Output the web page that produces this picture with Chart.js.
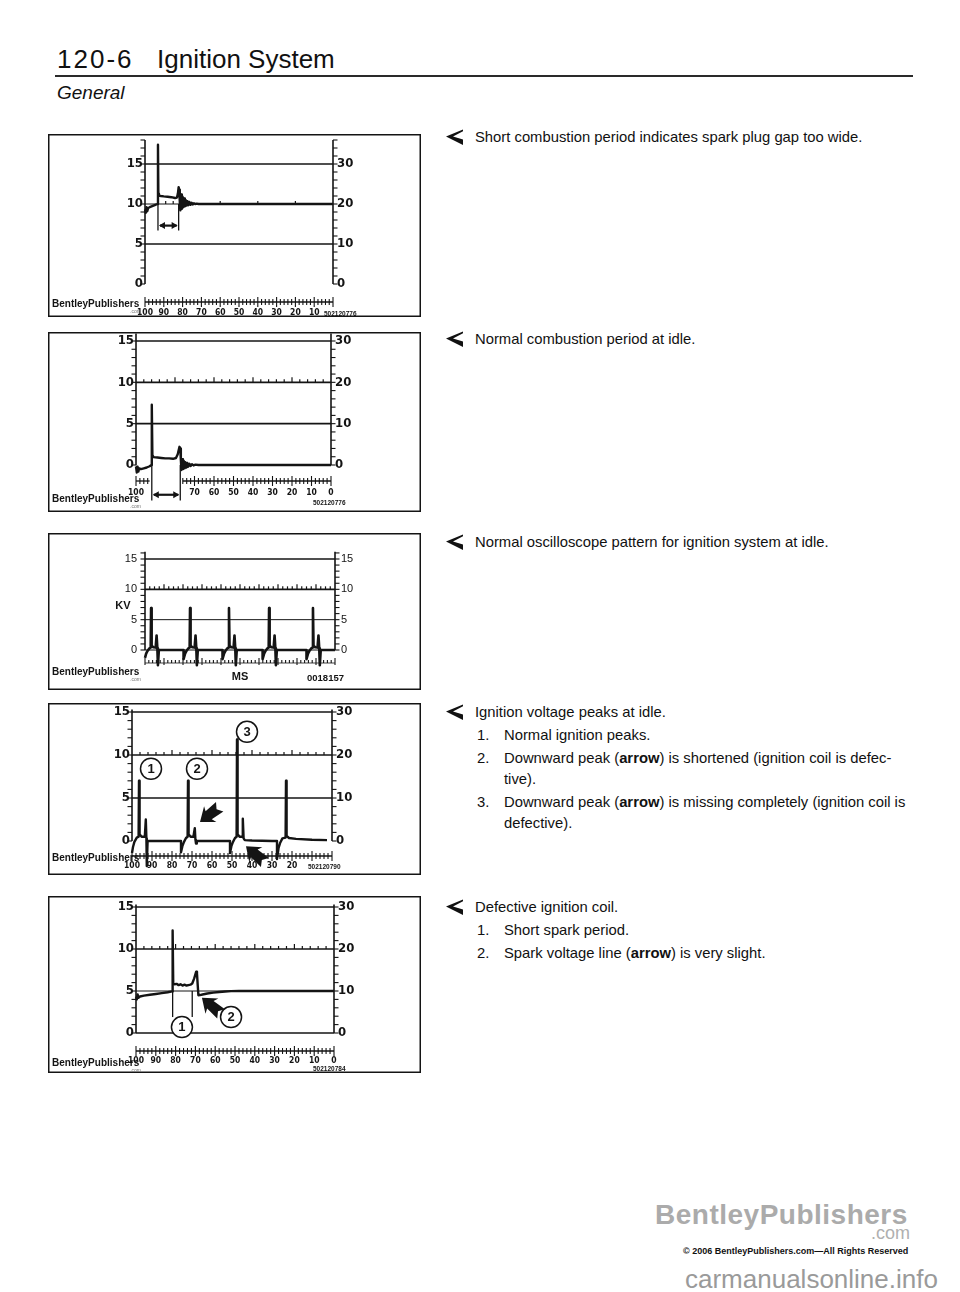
<!DOCTYPE html>
<html lang="en">
<head>
<meta charset="utf-8">
<title>120-6 Ignition System</title>
<script src="https://cdn.jsdelivr.net/npm/chart.js@4.4.1/dist/chart.umd.min.js"></script>
<style>
  html, body { margin: 0; padding: 0; background: #fff; }
  #page { position: relative; width: 960px; height: 1292px; overflow: hidden; color: #111;
          font-family: "Liberation Sans", Arial, Helvetica, sans-serif; }
  #page canvas { position: absolute; }
  .abs { position: absolute; white-space: nowrap; }
  .head { font-size: 26px; line-height: 30px; top: 44px; }
  .rule { position: absolute; left: 55px; top: 75px; width: 858px; height: 2px; background: #2a2a2a; }
  .sub { font-style: italic; font-size: 19px; line-height: 22px; left: 57px; top: 82px; }
  .note { position: absolute; left: 475px; font-size: 14.8px; line-height: 21px; white-space: nowrap; }
  .note svg { position: absolute; left: -29px; top: 2px; }
  .item { position: relative; padding-left: 29px; margin-top: 2px; }
  .item .n { position: absolute; left: 2px; }
</style>
</head>
<body>
<div id="page">
  <div class="abs head" style="left:57px;letter-spacing:2px">120-6</div>
  <div class="abs head" style="left:157px">Ignition System</div>
  <div class="rule"></div>
  <div class="abs sub">General</div>

  <canvas id="scope1"></canvas>
  <canvas id="scope2"></canvas>
  <canvas id="scope3"></canvas>
  <canvas id="scope4"></canvas>
  <canvas id="scope5"></canvas>

  <div class="note" style="top:127px">
    <svg width="17" height="16" viewBox="0 0 17 16"><path d="M0 7.5 L17 0.5 L17 2.2 L7 7.6 L17 10.5 L17 16 Z" fill="#111"/></svg>
    Short combustion period indicates spark plug gap too wide.
  </div>
  <div class="note" style="top:329px">
    <svg width="17" height="16" viewBox="0 0 17 16"><path d="M0 7.5 L17 0.5 L17 2.2 L7 7.6 L17 10.5 L17 16 Z" fill="#111"/></svg>
    Normal combustion period at idle.
  </div>
  <div class="note" style="top:532px">
    <svg width="17" height="16" viewBox="0 0 17 16"><path d="M0 7.5 L17 0.5 L17 2.2 L7 7.6 L17 10.5 L17 16 Z" fill="#111"/></svg>
    Normal oscilloscope pattern for ignition system at idle.
  </div>
  <div class="note" style="top:702px">
    <svg width="17" height="16" viewBox="0 0 17 16"><path d="M0 7.5 L17 0.5 L17 2.2 L7 7.6 L17 10.5 L17 16 Z" fill="#111"/></svg>
    <div>Ignition voltage peaks at idle.</div>
    <div class="item"><span class="n">1.</span>Normal ignition peaks.</div>
    <div class="item"><span class="n">2.</span>Downward peak (<b>arrow</b>) is shortened (ignition coil is defec-<br>tive).</div>
    <div class="item"><span class="n">3.</span>Downward peak (<b>arrow</b>) is missing completely (ignition coil is<br>defective).</div>
  </div>
  <div class="note" style="top:897px">
    <svg width="17" height="16" viewBox="0 0 17 16"><path d="M0 7.5 L17 0.5 L17 2.2 L7 7.6 L17 10.5 L17 16 Z" fill="#111"/></svg>
    <div>Defective ignition coil.</div>
    <div class="item"><span class="n">1.</span>Short spark period.</div>
    <div class="item"><span class="n">2.</span>Spark voltage line (<b>arrow</b>) is very slight.</div>
  </div>

  <div class="abs" style="left:655px;top:1198px;font-weight:bold;font-size:28px;line-height:34px;letter-spacing:0.5px;color:#ababab">BentleyPublishers</div>
  <div class="abs" style="right:50px;top:1222px;font-size:18px;line-height:22px;color:#b0b0b0">.com</div>
  <div class="abs" style="left:683px;top:1245px;font-weight:bold;font-size:9px;line-height:12px">© 2006 BentleyPublishers.com—All Rights Reserved</div>
  <div class="abs" style="left:685px;top:1264px;font-size:26px;line-height:30px;color:#9a9a9a">carmanualsonline.info</div>
</div>

<script>
// scope 1: spark plug gap too wide (ms runs 100 -> 0, kV)
const wideGapMs = [100, 99.6, 99.2, 98.8, 98.3, 97.5, 96.5, 95.5, 94.5, 93.4, 93.1, 92.9, 92.6, 91.5, 90,
                   88, 86, 84, 83, 82.5, 82.1, 81.8, 81.5, 81.2, 80.8, 80.4, 80.0, 79.6, 79.2, 78.8,
                   78.4, 77.9, 77.4, 76.9, 76.4, 75.8, 75.2, 74.6, 74.0, 73.3, 72.5, 71.5, 0];
const wideGapKv = [9.3, 8.9, 9.6, 9.1, 9.5, 9.6, 9.7, 9.8, 9.9, 10.0, 17.4, 11.3, 11.05, 11.0, 10.95,
                   10.9, 10.85, 10.75, 10.8, 11.3, 12.1, 11.8, 10.3, 9.2, 11.2, 9.4, 10.9, 9.6, 10.7, 9.7,
                   10.5, 9.8, 10.35, 9.85, 10.25, 9.9, 10.15, 9.95, 10.1, 10.0, 10.05, 10.0, 10.0];
const wideGapSpan = [93.1, 82.1];
const wideGapMarks = [89, 85, 60, 40, 20];

// scope 2: normal combustion period at idle
const idleMs = [100, 99.6, 99.2, 98.8, 98.4, 97.5, 96, 94.5, 93, 92.1, 91.9, 91.6, 91, 89, 87,
                85, 83, 81, 79.5, 78.6, 77.7, 77.3, 77.0, 76.7, 76.3, 75.9, 75.5, 75.1, 74.7, 74.2,
                73.7, 73.2, 72.6, 72.0, 71.3, 70.5, 69.5, 68, 0];
const idleKv = [-0.2, -0.9, -0.2, -0.8, -0.4, -0.5, -0.4, -0.3, -0.15, 0, 7.3, 1.2, 0.95, 0.9, 0.85,
                0.8, 0.8, 0.75, 0.85, 1.3, 2.2, 2.0, 0.6, -0.6, 0.7, -0.5, 0.5, -0.4, 0.35, -0.3,
                0.25, -0.2, 0.15, -0.12, 0.1, -0.05, 0.05, 0, 0];
const idleSpan = [91.9, 77.3];

// scope 3: oscilloscope pattern, five cylinders (screen time units 0 -> 100)
const patternT = [0, 0.6, 1.4, 2.4, 3.0, 3.2, 3.5, 4.4, 5.6, 6.1, 6.5, 6.8, 7.3,
                  20.3, 20.3, 21.1, 21.9, 22.9, 23.5, 23.7, 24.0, 24.9, 26.1, 26.6, 27.0, 27.3, 27.8,
                  40.8, 40.8, 41.6, 42.4, 43.4, 44.0, 44.2, 44.5, 45.4, 46.6, 47.1, 47.5, 47.8, 48.3,
                  61.9, 61.9, 62.7, 63.5, 64.5, 65.1, 65.3, 65.6, 66.5, 67.7, 68.2, 68.6, 68.9, 69.4,
                  85.0, 85.0, 85.8, 86.6, 87.6, 88.2, 88.4, 88.7, 89.6, 90.8, 91.3, 91.7, 92.0, 92.5, 100];
const patternKv = [-1.3, -0.6, -0.1, 0.3, 0.4, 6.9, 0.7, 0.45, 0.4, 2.4, 0.3, -2.5, 0,
                   0, -1.5, -0.6, -0.1, 0.3, 0.4, 6.9, 0.7, 0.45, 0.4, 2.4, 0.3, -2.5, 0,
                   0, -1.5, -0.6, -0.1, 0.3, 0.4, 6.9, 0.7, 0.45, 0.4, 2.4, 0.3, -2.5, 0,
                   0, -1.5, -0.6, -0.1, 0.3, 0.4, 6.9, 0.7, 0.45, 0.4, 2.4, 0.3, -2.5, 0,
                   0, -1.5, -0.6, -0.1, 0.3, 0.4, 6.9, 0.7, 0.45, 0.4, 2.4, 0.3, -2.5, 0, 0];

// scope 4: ignition voltage peaks at idle
const peaksMs = [100, 99.5, 98.8, 97.6, 96.7, 96.5, 96.2, 95.2, 93.6, 93.1, 92.8, 92.6, 92.2,
                 75.5, 75.5, 74.8, 74.0, 73.0, 72.2, 72.0, 71.7, 70.7, 69.3, 68.6, 68.3, 68.0, 67.6,
                 51.0, 51.0, 50.3, 49.5, 48.5, 47.7, 47.5, 47.2, 46.2, 45.0, 44.6, 44.2, 43.6, 40.0, 30.0,
                 27.5, 27.5, 26.7, 25.9, 24.8, 23.2, 23.0, 22.7, 21.5, 18.0, 10.0, 2.5];
const peaksKv = [-1.4, -0.7, -0.1, 0.4, 0.5, 7.0, 0.8, 0.5, 0.5, 2.5, 0.3, -2.9, 0,
                 0, -1.3, -0.6, -0.1, 0.35, 0.5, 7.0, 0.8, 0.5, 0.5, 1.5, 0.2, -0.3, 0,
                 0, -1.4, -0.6, -0.1, 0.35, 0.5, 11.8, 0.8, 0.5, 0.5, 2.6, 0.3, 0.1, 0.05, 0,
                 0, -2.1, -0.8, -0.2, 0.3, 0.4, 7.0, 0.6, 0.35, 0.25, 0.15, 0.1];
const peakCallouts = [[90.5, 8.4, '1'], [67.5, 8.4, '2'], [42.5, 12.7, '3']];
const peakPointers = [[66, 2.2, 142], [43, -0.6, -139]];

// scope 5: defective ignition coil
const coilMs = [100, 99.6, 99.2, 98.8, 98, 96, 93, 90, 87, 84, 81.7, 81.5, 81.2, 80.5, 79.5,
                78.5, 77.5, 76.5, 75.5, 74.5, 73.5, 72.5, 71.6, 70.6, 69.6, 69.2, 68.8, 68.5, 67, 64,
                61, 58, 55, 52, 48, 0];
const coilKv = [4.3, 4.0, 4.6, 4.2, 4.35, 4.45, 4.55, 4.65, 4.75, 4.85, 4.95, 12.2, 5.9, 5.8, 5.85,
                5.7, 5.8, 5.65, 5.75, 5.65, 5.7, 5.75, 5.9, 6.5, 7.3, 7.1, 5.6, 4.5, 4.55, 4.7,
                4.8, 4.88, 4.94, 4.98, 5.0, 5.0];
const coilSpan = [81.5, 71.6];
const coilCallouts = [[76.8, 0.7, '1'], [52, 1.9, '2']];
const coilPointers = [[66.7, 4.2, -140]];

const kvTicks = [0, 5, 10, 15];
const msLabels = [100, 90, 80, 70, 60, 50, 40, 30, 20, 10, 0];

const INK = '#141414';
const NARROW = '"Liberation Sans Narrow", "DejaVu Sans Condensed", "Liberation Sans", Arial, sans-serif';
const LABEL_FONT = 'bold 13px ' + NARROW;
const RULER_FONT = 'bold 8.5px ' + NARROW;
const BRAND = 'bold 10px "Liberation Sans", Arial, sans-serif';
const TINY = '5px "Liberation Sans", Arial, sans-serif';
const CODE = 'bold 6.5px "Liberation Sans", Arial, sans-serif';

const drawPointer = function (ctx, px, py, deg) {
    ctx.save();
    ctx.translate(px, py);
    ctx.rotate(deg * Math.PI / 180);
    ctx.beginPath();
    ctx.moveTo(0, 0);
    ctx.lineTo(-13, -10);
    ctx.lineTo(-11, -5);
    ctx.lineTo(-25, -6);
    ctx.lineTo(-21, 0);
    ctx.lineTo(-25, 6);
    ctx.lineTo(-11, 5);
    ctx.lineTo(-13, 10);
    ctx.closePath();
    ctx.fill();
    ctx.restore();
}

const drawSpan = function (ctx, a, b, py) {
    const x1 = Math.min(a, b), x2 = Math.max(a, b);
    ctx.beginPath(); ctx.moveTo(x1 + 2, py); ctx.lineTo(x2 - 2, py); ctx.stroke();
    ctx.beginPath();
    ctx.moveTo(x1 + 1, py); ctx.lineTo(x1 + 7, py - 3.5); ctx.lineTo(x1 + 7, py + 3.5); ctx.closePath();
    ctx.moveTo(x2 - 1, py); ctx.lineTo(x2 - 7, py - 3.5); ctx.lineTo(x2 - 7, py + 3.5); ctx.closePath();
    ctx.fill();
}

const scopeLayer = function (o) {
    return {
        id: 'scope',
        beforeDatasetsDraw(chart) {
            const { ctx, chartArea: a } = chart;
            const x = chart.scales.x, y = chart.scales.y;
            ctx.save();
            ctx.strokeStyle = INK;
            o.grid.forEach(([v, w]) => {
                const py = y.getPixelForValue(v);
                ctx.lineWidth = w;
                ctx.beginPath(); ctx.moveTo(a.left, py); ctx.lineTo(a.right, py); ctx.stroke();
            });
            if (o.marks) {
                const m = o.marks, py = y.getPixelForValue(m.v);
                const at = m.at ? m.at.slice() : [];
                if (m.step) for (let v = m.step; v < 100 - 1e-6; v += m.step) at.push(v);
                ctx.lineWidth = 1.2;
                at.forEach(v => {
                    const major = m.major && Math.abs(v / m.major - Math.round(v / m.major)) < 1e-6;
                    const px = x.getPixelForValue(v);
                    ctx.beginPath(); ctx.moveTo(px, py); ctx.lineTo(px, py - (major ? 5 : 3)); ctx.stroke();
                });
            }
            ctx.restore();
        },
        afterDatasetsDraw(chart) {
            const { ctx, chartArea: a, width, height } = chart;
            const x = chart.scales.x, y = chart.scales.y;
            const p0 = y.getPixelForValue(0);
            ctx.save();
            ctx.strokeStyle = INK;
            ctx.fillStyle = INK;

            ctx.lineWidth = 1.5;
            ctx.strokeRect(0.75, 0.75, width - 1.5, height - 1.5);

            // kV axes on both sides
            [a.left, a.right].forEach((px, side) => {
                const dir = side ? 1 : -1;
                ctx.lineWidth = 1.6;
                ctx.beginPath(); ctx.moveTo(px, p0); ctx.lineTo(px, a.top); ctx.stroke();
                ctx.lineWidth = 1.1;
                for (let v = 0; v <= y.max + 1e-6; v += 1) {
                    const py = y.getPixelForValue(v);
                    ctx.beginPath(); ctx.moveTo(px, py); ctx.lineTo(px + dir * 4.5, py); ctx.stroke();
                }
            });
            ctx.font = o.labelFont;
            ctx.textBaseline = 'middle';
            o.labels.forEach(v => {
                const py = y.getPixelForValue(v);
                ctx.textAlign = 'right'; ctx.fillText(String(v), a.left - o.labelGap[0], py);
                ctx.textAlign = 'left'; ctx.fillText(String(v * o.rightScale), a.right + o.labelGap[1], py);
            });

            // time ruler under the trace
            const r = o.ruler, ry = p0 + r.gap;
            const segs = r.segments || [[0, 100]];
            ctx.lineWidth = r.style === 'up' ? 0.8 : 1.3;
            segs.forEach(([s, e]) => {
                ctx.beginPath(); ctx.moveTo(x.getPixelForValue(s), ry); ctx.lineTo(x.getPixelForValue(e), ry); ctx.stroke();
            });
            ctx.lineWidth = 1.1;
            for (let v = 0; v <= 100 + 1e-6; v += r.minor) {
                if (!segs.some(([s, e]) => v >= Math.min(s, e) - 1e-6 && v <= Math.max(s, e) + 1e-6)) continue;
                const major = Math.abs(v / r.major - Math.round(v / r.major)) < 1e-6;
                const px = x.getPixelForValue(v);
                const up = major ? 5 : 3;
                const down = r.style === 'up' ? (major ? 2 : 0) : up;
                ctx.beginPath(); ctx.moveTo(px, ry - up); ctx.lineTo(px, ry + down); ctx.stroke();
            }
            ctx.font = RULER_FONT;
            ctx.textAlign = 'center';
            (r.labels || []).forEach(v => ctx.fillText(String(v), x.getPixelForValue(v), ry + r.labelDy));

            // spark period markers
            if (o.span) {
                const s = o.span;
                ctx.lineWidth = 1.3;
                s.at.forEach(v => {
                    const px = x.getPixelForValue(v);
                    ctx.beginPath(); ctx.moveTo(px, y.getPixelForValue(s.from)); ctx.lineTo(px, y.getPixelForValue(s.to)); ctx.stroke();
                });
                if (s.arrowAt !== undefined) {
                    ctx.lineWidth = 2.2;
                    drawSpan(ctx, x.getPixelForValue(s.at[0]), x.getPixelForValue(s.at[1]), y.getPixelForValue(s.arrowAt));
                }
            }
            (o.callouts || []).forEach(([vx, vy, t]) => {
                const px = x.getPixelForValue(vx), py = y.getPixelForValue(vy);
                ctx.lineWidth = 1.5;
                ctx.fillStyle = '#fff';
                ctx.beginPath(); ctx.arc(px, py, 10.5, 0, Math.PI * 2); ctx.fill(); ctx.stroke();
                ctx.fillStyle = INK;
                ctx.font = 'bold 13px "Liberation Sans", Arial, sans-serif';
                ctx.textAlign = 'center';
                ctx.fillText(t, px, py + 0.5);
            });
            (o.pointers || []).forEach(([vx, vy, deg]) => drawPointer(ctx, x.getPixelForValue(vx), y.getPixelForValue(vy), deg));
            (o.texts || []).forEach(([t, px, py, font, align, color]) => {
                ctx.font = font;
                ctx.textAlign = align || 'left';
                ctx.fillStyle = color || INK;
                ctx.fillText(t, px, py);
            });
            ctx.restore();
        }
    };
}

const makeScope = function (id, g, xs, ys, o) {
    const cv = document.getElementById(id);
    cv.width = g.w;
    cv.height = g.h;
    cv.style.left = g.x + 'px';
    cv.style.top = g.y + 'px';
    const ppu = (g.y0 - g.y15) / 15;
    const top = g.y0 - g.yMax * ppu;
    return new Chart(cv, {
        type: 'line',
        data: {
            datasets: [{
                data: xs.map((v, i) => ({ x: v, y: ys[i] })),
                borderColor: INK,
                borderWidth: o.lineWidth || 2.4,
                borderJoinStyle: 'round',
                pointRadius: 0,
                tension: 0,
                clip: false
            }]
        },
        options: {
            responsive: false,
            animation: false,
            events: [],
            layout: { padding: { left: g.left - g.x, right: g.x + g.w - g.right, top: top - g.y, bottom: g.y + g.h - g.y0 } },
            scales: {
                x: { type: 'linear', min: 0, max: 100, reverse: o.reverse, display: false },
                y: { type: 'linear', min: 0, max: g.yMax, display: false }
            },
            plugins: { legend: { display: false }, tooltip: { enabled: false } }
        },
        plugins: [scopeLayer(o)]
    });
}

makeScope('scope1',
    { x: 48, y: 134, w: 373, h: 183, left: 145, right: 333, y0: 284, y15: 164, yMax: 18 },
    wideGapMs, wideGapKv, {
        reverse: true, labels: kvTicks, rightScale: 2, labelGap: [2, 4], labelFont: LABEL_FONT,
        grid: [[15, 1.6], [10, 1], [5, 1.6]],
        marks: { v: 10, at: wideGapMarks },
        ruler: { gap: 18, style: 'cross', minor: 2, major: 10, labels: msLabels.slice(0, 10), labelDy: 11 },
        span: { at: wideGapSpan, from: 10, to: 6.7, arrowAt: 7.3 },
        texts: [['BentleyPublishers', 4, 170, BRAND], ['.com', 82, 178, TINY, 'left', '#777'], ['502120776', 276, 180, CODE]]
    });

makeScope('scope2',
    { x: 48, y: 332, w: 373, h: 180, left: 136, right: 331, y0: 465, y15: 341, yMax: 15.9 },
    idleMs, idleKv, {
        reverse: true, labels: kvTicks, rightScale: 2, labelGap: [2, 4], labelFont: LABEL_FONT,
        grid: [[15, 1.6], [10, 1.6], [5, 1.6]],
        marks: { v: 10, step: 4, major: 20 },
        ruler: { gap: 16, style: 'cross', minor: 2, major: 10, segments: [[100, 93], [76, 0]],
                 labels: [100, 70, 60, 50, 40, 30, 20, 10, 0], labelDy: 12 },
        span: { at: idleSpan, from: 0, to: -4.3, arrowAt: -3.6 },
        texts: [['BentleyPublishers', 4, 167, BRAND], ['.com', 82, 175, TINY, 'left', '#777'], ['502120776', 265, 171, CODE]]
    });

makeScope('scope3',
    { x: 48, y: 533, w: 373, h: 157, left: 145, right: 335, y0: 650, y15: 559, yMax: 16.2 },
    patternT, patternKv, {
        reverse: false, labels: kvTicks, rightScale: 1, labelGap: [8, 6], lineWidth: 2.6,
        labelFont: '11px "Liberation Sans", Arial, sans-serif',
        grid: [[15, 1.6], [10, 1.6], [5, 1], [0, 1]],
        marks: { v: 10, step: 2.5, major: 10 },
        ruler: { gap: 13, style: 'up', minor: 2, major: 10 },
        texts: [['BentleyPublishers', 4, 139, BRAND], ['.com', 82, 147, TINY, 'left', '#777'],
                ['KV', 75, 73, 'bold 11px "Liberation Sans", Arial, sans-serif', 'center'],
                ['MS', 192, 144, 'bold 11px "Liberation Sans", Arial, sans-serif', 'center'],
                ['0018157', 259, 145, 'bold 9.5px "Liberation Sans", Arial, sans-serif']]
    });

makeScope('scope4',
    { x: 48, y: 703, w: 373, h: 172, left: 132, right: 332, y0: 841, y15: 712, yMax: 15.3 },
    peaksMs, peaksKv, {
        reverse: true, labels: kvTicks, rightScale: 2, labelGap: [2, 4], labelFont: LABEL_FONT,
        grid: [[15, 1.6], [10, 1.6], [5, 1.6]],
        marks: { v: 10, step: 4, major: 20 },
        ruler: { gap: 15, style: 'cross', minor: 2, major: 10, labels: msLabels.slice(0, 9), labelDy: 10 },
        callouts: peakCallouts,
        pointers: peakPointers,
        texts: [['BentleyPublishers', 4, 155, BRAND], ['502120790', 260, 164, CODE]]
    });

makeScope('scope5',
    { x: 48, y: 896, w: 373, h: 177, left: 136, right: 334, y0: 1033, y15: 907, yMax: 15.3 },
    coilMs, coilKv, {
        reverse: true, labels: kvTicks, rightScale: 2, labelGap: [2, 4], labelFont: LABEL_FONT,
        grid: [[15, 1.6], [10, 1.6], [5, 1], [0, 1.6]],
        marks: { v: 10, step: 4, major: 20 },
        ruler: { gap: 18, style: 'cross', minor: 2, major: 10, labels: msLabels, labelDy: 10 },
        span: { at: coilSpan, from: 5, to: 1.9 },
        callouts: coilCallouts,
        pointers: coilPointers,
        texts: [['BentleyPublishers', 4, 167, BRAND], ['.com', 82, 175, TINY, 'left', '#777'], ['502120784', 265, 173, CODE]]
    });
</script>
</body>
</html>
